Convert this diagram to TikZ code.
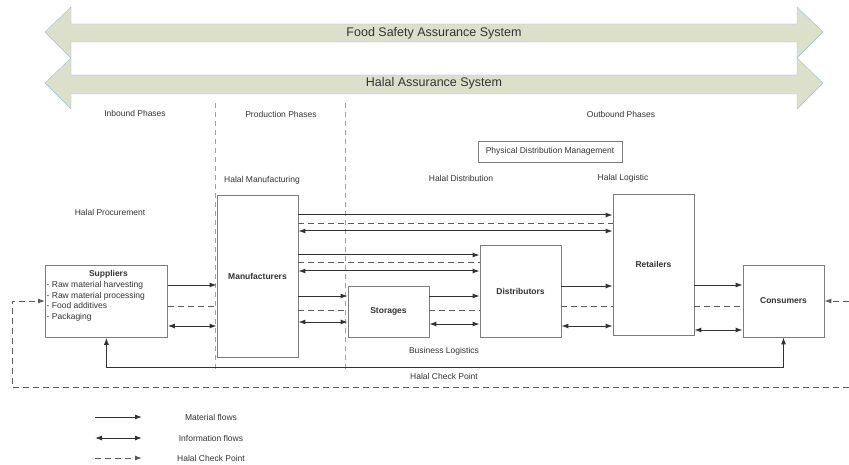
\documentclass[tikz,border=0pt]{standalone}
\usepackage{fontspec}
\setmainfont{Liberation Sans}
\usetikzlibrary{arrows.meta,calc}
\definecolor{bandfill}{RGB}{220,224,202}
\definecolor{bandedge}{RGB}{160,188,220}
\definecolor{phaseline}{RGB}{120,165,235}
\definecolor{boxedge}{RGB}{125,125,125}
\definecolor{flowcol}{RGB}{50,50,50}
\definecolor{txtcol}{RGB}{50,50,50}
\tikzset{
  lbl/.style={font=\fontsize{8.5}{10.4}\selectfont, text=txtcol, inner sep=0pt},
  boxnode/.style={draw=boxedge, line width=0.8pt, fill=white, font=\fontsize{8.5}{10.4}\selectfont\bfseries, text=txtcol, inner sep=0pt},
  band/.style={fill=bandfill, draw=bandedge, line width=0.4pt},
  phasesep/.style={draw=phaseline, line width=1pt, dash pattern=on 5pt off 4pt},
  tipa/.tip={Latex[length=7pt,width=5pt]},
  mat/.style={draw=flowcol, line width=1pt, -tipa},
  info/.style={draw=flowcol, line width=1pt, tipa-tipa},
  chk/.style={draw=flowcol!80, line width=1pt, dash pattern=on 6pt off 4pt},
}
\begin{document}
\begin{tikzpicture}[x=1pt,y=-1pt]
\useasboundingbox (0,0) rectangle (849,465);
% assurance bands
\draw[band] (45,32) -- (71,7) -- (71,24) -- (797,24) -- (797,7) -- (823,32) -- (797,58) -- (797,42) -- (71,42) -- (71,58) -- cycle;
\draw[band] (45,83) -- (71,58) -- (71,75) -- (797,75) -- (797,58) -- (823,83) -- (797,109) -- (797,94) -- (71,94) -- (71,109) -- cycle;
\node[lbl, font=\fontsize{12.5}{14}\selectfont] (fsas) at (434,33) {Food Safety Assurance System};
\node[lbl, font=\fontsize{12.5}{14}\selectfont] (has) at (434,83) {Halal Assurance System};
% phase separators
\coordinate (s1t) at (215,103); \coordinate (s1b) at (215,372);
\coordinate (s2t) at (345,103); \coordinate (s2b) at (345,372);
\draw[phasesep] (s1t) -- (s1b);
\draw[phasesep] (s2t) -- (s2b);
\node[lbl] (inb) at (135,113) {Inbound Phases};
\node[lbl] (prod) at (281,114) {Production Phases};
\node[lbl] (outb) at (621,114) {Outbound Phases};
\node[draw=boxedge, line width=0.8pt, minimum width=144pt, minimum height=21pt, lbl] (pdm) at (550,151.5) {Physical Distribution Management};
\node[lbl] (hdist) at (461,178) {Halal Distribution};
\node[lbl] (hlog) at (623,178) {Halal Logistic};
\node[lbl] (hman) at (262,180) {Halal Manufacturing};
\node[lbl] (hproc) at (110,212) {Halal Procurement};
% boxes
\node[boxnode, minimum width=81pt, minimum height=162pt] (man) at (257.5,276) {Manufacturers};
\node[boxnode, minimum width=122pt, minimum height=72pt, anchor=north west] (sup) at (45,265) {};
\node[lbl, font=\fontsize{8.5}{10.4}\selectfont\bfseries] (supt) at ($(sup.north)+(2,9)$) {Suppliers};
\node[lbl, align=left, anchor=north west] (supl) at ($(sup.north west)+(1.5,16.5)$) {- Raw material harvesting\\- Raw material processing\\- Food additives\\- Packaging};
\node[boxnode, minimum width=81pt, minimum height=51pt] (sto) at (388.5,311.5) {Storages};
\node[boxnode, minimum width=81pt, minimum height=92pt] (dis) at (520.5,291) {Distributors};
\node[boxnode, minimum width=81pt, minimum height=141pt] (ret) at (653.5,264.5) {Retailers};
\node[boxnode, minimum width=81pt, minimum height=72pt] (con) at (783.5,301) {Consumers};
% suppliers -> manufacturers
\draw[mat] (sup.east |- 0,285) -- (man.west |- 0,285);
\draw[chk] (sup.east |- 0,306) -- (man.west |- 0,306);
\draw[info] (sup.east |- 0,326) -- (man.west |- 0,326);
% manufacturers -> retailers
\draw[mat] (man.east |- 0,215) -- (ret.west |- 0,215);
\draw[chk] (man.east |- 0,224) -- (ret.west |- 0,224);
\draw[info] (man.east |- 0,231) -- (ret.west |- 0,231);
% manufacturers -> distributors
\draw[mat] (man.east |- 0,255) -- (dis.west |- 0,255);
\draw[chk] (man.east |- 0,263) -- (dis.west |- 0,263);
\draw[info] (man.east |- 0,271) -- (dis.west |- 0,271);
% manufacturers -> storages
\draw[mat] (man.east |- 0,296) -- (sto.west |- 0,296);
\draw[chk] (man.east |- 0,310) -- (sto.west |- 0,310);
\draw[info] (man.east |- 0,322) -- (sto.west |- 0,322);
% storages -> distributors
\draw[mat] (sto.east |- 0,296) -- (dis.west |- 0,296);
\draw[chk] (sto.east |- 0,310) -- (dis.west |- 0,310);
\draw[info] (sto.east |- 0,324) -- (dis.west |- 0,324);
% distributors -> retailers
\draw[mat] (dis.east |- 0,286) -- (ret.west |- 0,286);
\draw[chk] (dis.east |- 0,306) -- (ret.west |- 0,306);
\draw[info] (dis.east |- 0,326) -- (ret.west |- 0,326);
% retailers -> consumers
\draw[mat] (ret.east |- 0,285) -- (con.west |- 0,285);
\draw[chk] (ret.east |- 0,306) -- (con.west |- 0,306);
\draw[info] (ret.east |- 0,330) -- (con.west |- 0,330);
% business logistics
\draw[info] (sup.south) -- (sup.south |- 0,367) -- (con.south |- 0,367) -- (con.south);
\node[lbl] (blog) at (444,351) {Business Logistics};
% halal check point loop
\coordinate (hcL) at (12,301);
\coordinate (hcLB) at (12,387);
\coordinate (hcRB) at (849,387);
\coordinate (hcR) at (849,301);
\draw[chk, -tipa] (hcRB) -- (hcLB) -- (hcL) -- (sup.west |- hcL);
\draw[chk, -tipa] (hcR) -- (con.east |- hcR);
\node[lbl] (hcp) at (444,376) {Halal Check Point};
% legend
\coordinate (l1a) at (95,417); \coordinate (l1b) at (142,417);
\coordinate (l2a) at (95,438); \coordinate (l2b) at (142,438);
\coordinate (l3a) at (95,458); \coordinate (l3b) at (142,458);
\draw[mat] (l1a) -- (l1b);
\draw[info] (l2a) -- (l2b);
\draw[chk, -tipa] (l3a) -- (l3b);
\node[lbl] (lg1) at (211,417) {Material flows};
\node[lbl] (lg2) at (211,438) {Information flows};
\node[lbl] (lg3) at (211,458) {Halal Check Point};
\end{tikzpicture}
\end{document}
